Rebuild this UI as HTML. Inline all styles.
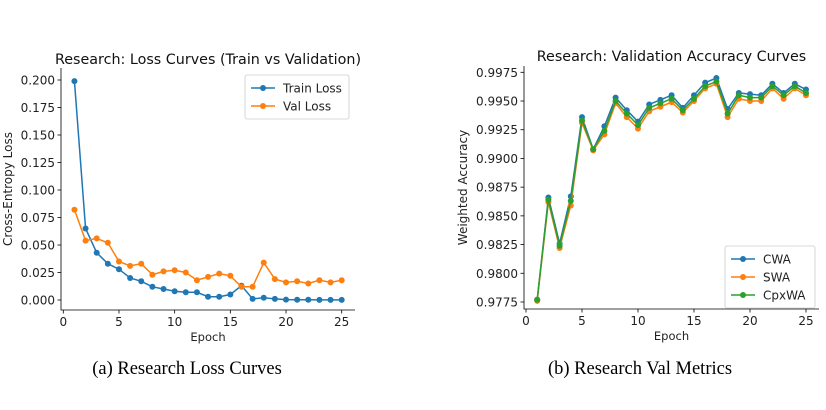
<!DOCTYPE html>
<html><head><meta charset="utf-8"><style>
body{margin:0;background:#fff;width:826px;height:410px;overflow:hidden}
svg{display:block;font-family:"DejaVu Sans","Liberation Sans",sans-serif}
</style></head><body>
<svg id="fig" width="826" height="410">
<text x="187" y="374" font-family="Liberation Serif,serif" font-size="18.5" text-anchor="middle" fill="#000">(a) Research Loss Curves</text>
<text x="640" y="374" font-family="Liberation Serif,serif" font-size="18.5" text-anchor="middle" fill="#000">(b) Research Val Metrics</text>
</svg>
<script>
const epochs=[1,2,3,4,5,6,7,8,9,10,11,12,13,14,15,16,17,18,19,20,21,22,23,24,25];
const trainLoss=[0.199,0.065,0.043,0.033,0.028,0.020,0.017,0.012,0.010,0.008,0.007,0.007,0.003,0.003,0.005,0.013,0.001,0.002,0.001,0.0003,0.0002,0.0002,0.0001,0.0001,0.0001];
const valLoss=[0.082,0.054,0.056,0.052,0.035,0.031,0.033,0.023,0.026,0.027,0.025,0.018,0.021,0.024,0.022,0.012,0.012,0.034,0.019,0.016,0.017,0.015,0.018,0.016,0.018];
const cwa=[0.9777,0.9866,0.9826,0.9867,0.9936,0.9908,0.9928,0.9953,0.9942,0.9932,0.9947,0.9951,0.9955,0.9944,0.9955,0.9966,0.9970,0.9943,0.9957,0.9956,0.9955,0.9965,0.9957,0.9965,0.9960];
const swa=[0.9776,0.9862,0.9822,0.9859,0.9931,0.9907,0.9921,0.9948,0.9936,0.9926,0.9941,0.9945,0.9949,0.9940,0.9950,0.9961,0.9965,0.9936,0.9952,0.9950,0.9950,0.9961,0.9952,0.9961,0.9955];
const cpxwa=[0.9777,0.9864,0.9824,0.9863,0.9933,0.9908,0.9924,0.9950,0.9939,0.9929,0.9944,0.9948,0.9952,0.9942,0.9952,0.9963,0.9967,0.9939,0.9955,0.9953,0.9953,0.9963,0.9955,0.9963,0.9957];
const xTicks=[0,5,10,15,20,25];
const lossTicks=[0,0.025,0.05,0.075,0.1,0.125,0.15,0.175,0.2];
const lossTickLabels=["0.000","0.025","0.050","0.075","0.100","0.125","0.150","0.175","0.200"];
const accTicks=[0.9775,0.98,0.9825,0.985,0.9875,0.99,0.9925,0.995,0.9975];
const accTickLabels=["0.9775","0.9800","0.9825","0.9850","0.9875","0.9900","0.9925","0.9950","0.9975"];

const svg=document.getElementById('fig');
const NS='http://www.w3.org/2000/svg';
function mk(tag,attrs,parent){const e=document.createElementNS(NS,tag);for(const k in attrs)e.setAttribute(k,attrs[k]);(parent||svg).appendChild(e);return e;}

function chart(o){
  const g=mk('g',{});
  
  
  const X=v=>o.x0+(v-0)*(o.x25-o.x0)/25;
  const Y=v=>o.yb+(v-o.vb)*(o.yt-o.yb)/(o.vt-o.vb);
  const ax=mk('path',{d:`M${o.left},${o.top} V${o.bottom} H${o.right}`,stroke:'#000',fill:'none','stroke-width':0.8},g);
  
  
  xTicks.forEach(t=>{
    mk('line',{x1:X(t),x2:X(t),y1:o.bottom,y2:o.bottom+3.5,stroke:'#000','stroke-width':0.8},g);
    const tx=mk('text',{x:X(t),y:o.bottom+16,'font-size':12,'text-anchor':'middle',fill:'#222'},g);
    tx.textContent=t;
    
    
  });
  o.yTicks.forEach((t,i)=>{
    mk('line',{x1:o.left-3.5,x2:o.left,y1:Y(t),y2:Y(t),stroke:'#000','stroke-width':0.8},g);
    const tx=mk('text',{x:o.left-6,y:Y(t)+4.5,'font-size':12,'text-anchor':'end',fill:'#222'},g);
    tx.textContent=o.yLabels[i];
    
    
  });
  const xt=mk('text',{x:(o.left+o.right)/2,y:o.bottom+31,'font-size':11.5,'text-anchor':'middle',fill:'#222'},g);
  xt.textContent='Epoch';
  
  
  const yt=mk('text',{x:0,y:0,'font-size':12,'text-anchor':'middle',fill:'#222',transform:`translate(${o.ylx},${(o.top+o.bottom)/2}) rotate(-90)`},g);
  yt.textContent=o.ylabel;
  
  
  const ti=mk('text',{x:(o.left+o.right)/2,y:o.titleY,'font-size':14.3,'text-anchor':'middle',fill:'#111'},g);
  ti.textContent=o.title;
  
  
  o.series.forEach(s=>{
    const sg=mk('g',{},g);
    
    
    mk('polyline',{points:epochs.map((e,i)=>X(e)+','+Y(s.data[i])).join(' '),fill:'none',stroke:s.color,'stroke-width':1.5},sg);
    epochs.forEach((e,i)=>{
      const c=mk('circle',{cx:X(e),cy:Y(s.data[i]),r:3,fill:s.color},sg);
      
      
    });
  });
  const L=o.legend;
  const lg=mk('g',{},g);
  
  
  mk('rect',{x:L.x,y:L.y,width:L.w,height:o.series.length*18+8,rx:2,fill:'#fff',stroke:'#ccc','stroke-width':0.8},lg);
  o.series.forEach((s,i)=>{
    const yy=L.y+13+i*18;
    mk('line',{x1:L.x+6,x2:L.x+30,y1:yy,y2:yy,stroke:s.color,'stroke-width':1.5},lg);
    mk('circle',{cx:L.x+18,cy:yy,r:3,fill:s.color},lg);
    const t=mk('text',{x:L.x+38,y:yy+4.5,'font-size':12,fill:'#222'},lg);
    t.textContent=s.label;
    
    
  });
}
chart({name:'loss-chart',left:61,right:355,top:68,bottom:310,x0:63.3,x25:341.7,yb:300,yt:80,vb:0,vt:0.2,
  yTicks:lossTicks,yLabels:lossTickLabels,ylabel:'Cross-Entropy Loss',ylx:12,title:'Research: Loss Curves (Train vs Validation)',titleY:64,
  series:[{key:'train-loss',label:'Train Loss',data:trainLoss,color:'#1f77b4'},{key:'val-loss',label:'Val Loss',data:valLoss,color:'#ff7f0e'}],
  legend:{x:245,y:75,w:104}});
chart({name:'accuracy-chart',left:524,right:819,top:66,bottom:309,x0:526,x25:806,yb:302,yt:72.3,vb:0.9775,vt:0.9975,
  yTicks:accTicks,yLabels:accTickLabels,ylabel:'Weighted Accuracy',ylx:467,title:'Research: Validation Accuracy Curves',titleY:61,
  series:[{key:'cwa',label:'CWA',data:cwa,color:'#1f77b4'},{key:'swa',label:'SWA',data:swa,color:'#ff7f0e'},{key:'cpxwa',label:'CpxWA',data:cpxwa,color:'#2ca02c'}],
  legend:{x:725,y:246,w:90}});
</script>
</body></html>
